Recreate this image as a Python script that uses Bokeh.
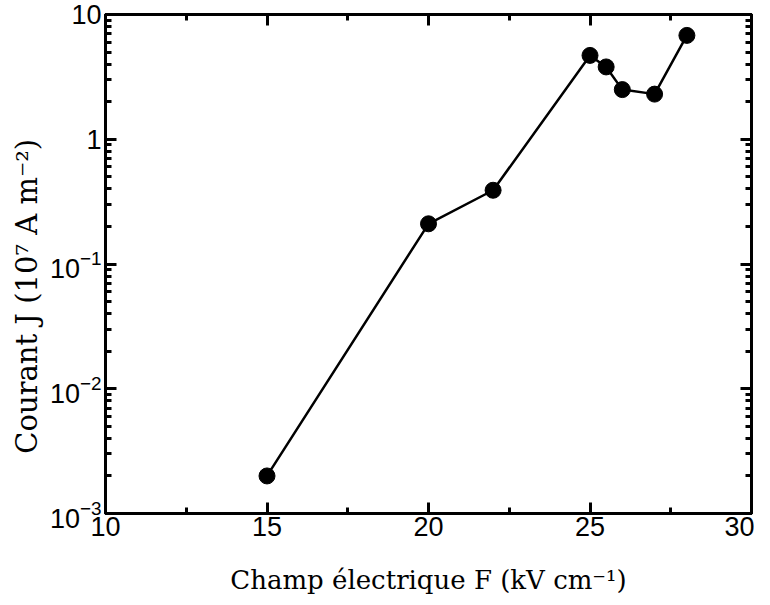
from bokeh.plotting import figure
from bokeh.models import Range1d, LinearAxis, LogAxis, SingleIntervalTicker, LogTicker, ColumnDataSource
from bokeh.embed import file_html
from bokeh.resources import INLINE

field = [15, 20, 22, 25, 25.5, 26, 27, 28]
current = [0.002, 0.21, 0.39, 4.7, 3.8, 2.5, 2.3, 6.8]
x_label = "Champ électrique F (kV cm⁻¹)"
y_label = "Courant J (10⁷ A m⁻²)" + "\u00a0" * 7

src = ColumnDataSource(dict(x=field, y=current))

p = figure(width=754, height=597, output_backend="svg", toolbar_location=None,
           x_range=Range1d(10, 30), y_range=Range1d(1e-3, 10), y_axis_type="log",
           min_border_left=105, min_border_top=14, min_border_right=3, min_border_bottom=83)
p.xgrid.visible = False
p.ygrid.visible = False
p.outline_line_color = "black"
p.outline_line_width = 3
p.background_fill_color = "white"
p.border_fill_color = "white"

p.line("x", "y", source=src, line_color="black", line_width=2.5)
p.scatter("x", "y", source=src, size=16, marker="circle", fill_color="black", line_color="black")

p.xaxis.ticker = SingleIntervalTicker(interval=5, num_minor_ticks=2)
p.yaxis.ticker = LogTicker(num_minor_ticks=10)

def style(ax, labels=True):
    ax.axis_line_width = 3
    ax.major_tick_in = 11
    ax.major_tick_out = 0
    ax.minor_tick_in = 6
    ax.minor_tick_out = 0
    ax.major_tick_line_width = 3
    ax.minor_tick_line_width = 3
    ax.major_label_text_font = "Liberation Sans"
    ax.major_label_text_font_size = "27px"
    ax.major_label_text_color = "black"
    ax.axis_label_text_font = "DejaVu Serif"
    ax.axis_label_text_font_style = "normal"
    ax.axis_label_text_font_size = "26px"
    ax.axis_label_text_color = "black"
    if not labels:
        ax.major_label_text_alpha = 0
        ax.major_label_text_font_size = "1px"

for ax in p.xaxis:
    style(ax)
    ax.axis_label = x_label
    ax.major_label_standoff = 3
    ax.axis_label_standoff = 26
for ax in p.yaxis:
    style(ax)
    ax.axis_label = y_label
    ax.axis_label_text_font_size = "29px"
    ax.major_label_standoff = 4
    ax.axis_label_standoff = 3
    ax.major_label_overrides = {1: "1", 10: "10"}

top = LinearAxis(ticker=SingleIntervalTicker(interval=5, num_minor_ticks=2))
style(top, labels=False)
p.add_layout(top, "above")
right = LogAxis(ticker=LogTicker(num_minor_ticks=10))
style(right, labels=False)
p.add_layout(right, "right")

open("out.html", "w").write(file_html(p, INLINE))
